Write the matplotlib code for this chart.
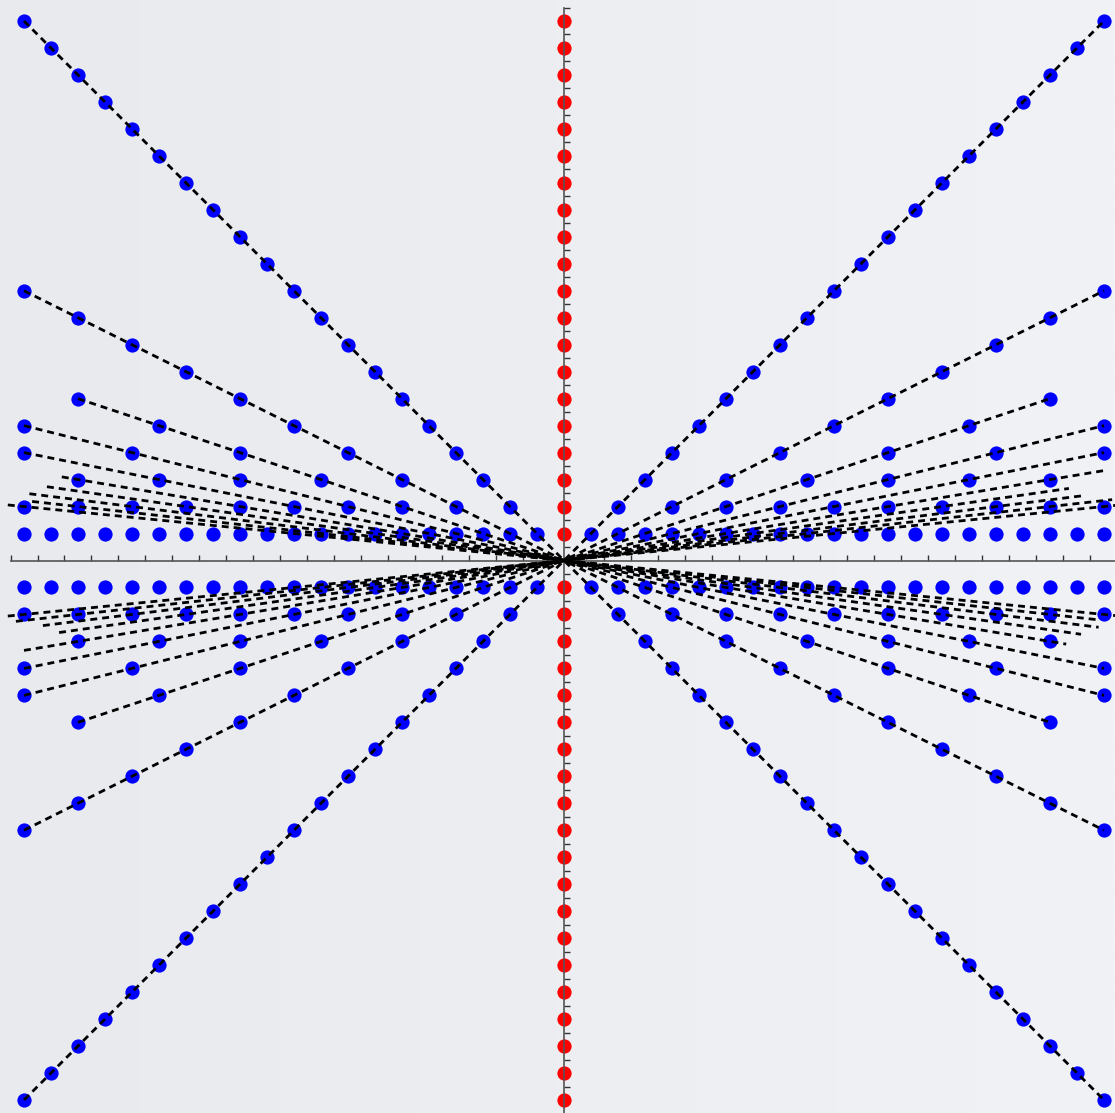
import numpy as np
import matplotlib.pyplot as plt
from matplotlib.colors import LinearSegmentedColormap

# lattice points (x, y) with y dividing x, first quadrant; mirrored into the others
row_y = [1, 2, 3, 4, 5, 6, 7, 8, 9, 10, 11, 12, 13, 14, 15, 16, 17, 18, 19, 20]
row_x = [
    [1, 2, 3, 4, 5, 6, 7, 8, 9, 10, 11, 12, 13, 14, 15, 16, 17, 18, 19, 20],
    [2, 4, 6, 8, 10, 12, 14, 16, 18, 20],
    [3, 6, 9, 12, 15, 18],
    [4, 8, 12, 16, 20],
    [5, 10, 15, 20],
    [6, 12, 18],
    [7, 14],
    [8, 16],
    [9, 18],
    [10, 20],
    [11], [12], [13], [14], [15], [16], [17], [18], [19], [20],
]

# points on the vertical axis (x = 0)
axis_y = [-20, -19, -18, -17, -16, -15, -14, -13, -12, -11, -10, -9, -8, -7, -6,
          -5, -4, -3, -2, -1, 1, 2, 3, 4, 5, 6, 7, 8, 9, 10, 11, 12, 13, 14, 15,
          16, 17, 18, 19, 20]

# dashed rays y = x/n through the origin and how far (in x) each one reaches
ray_n = [1, 2, 3, 4, 5, 6, 7, 8, 9, 10]
reach_pos = [20, 20, 18, 20, 20, 20.0, 18.7, 19.3, 20.3, 20.6]   # slope +1/n
reach_neg = [20, 20, 18, 20, 20, 18.6, 19.15, 19.8, 19.7, 20.6]  # slope -1/n

fig = plt.figure(figsize=(11.15, 11.13), dpi=100)
ax = fig.add_axes([0, 0, 1, 1])

x0, x1 = -564 / 27, 551 / 27
y0, y1 = -552.5 / 26.975, 560.5 / 26.975

# soft slide-like background
bg = LinearSegmentedColormap.from_list('bg', ['#e8eaee', '#f0f2f6'], N=1024)
ax.imshow(np.linspace(0, 1, 1024).reshape(1, -1), cmap=bg, aspect='auto',
          extent=[x0, x1, y0, y1], zorder=0, interpolation='bilinear')

# blue lattice points
bx, by = [], []
for y, xs in zip(row_y, row_x):
    for x in xs:
        for sx in (1, -1):
            for sy in (1, -1):
                bx.append(sx * x)
                by.append(sy * y)
ax.scatter(bx, by, s=105, color='#0000ff', linewidths=0, zorder=3)

# red points on the y axis
ax.scatter([0] * len(axis_y), axis_y, s=105, color='#ff0000', linewidths=0, zorder=1)

# dashed rays
for n, rp, rn in zip(ray_n, reach_pos, reach_neg):
    ax.plot([-rp, rp], [-rp / n, rp / n], color='black', lw=2.0,
            dashes=(2.5, 1.8), zorder=4)
    ax.plot([-rn, rn], [rn / n, -rn / n], color='black', lw=2.0,
            dashes=(2.5, 1.8), zorder=4)

# axes through the origin with small inward ticks
for side in ('top', 'right'):
    ax.spines[side].set_visible(False)
for side in ('left', 'bottom'):
    ax.spines[side].set_position('zero')
    ax.spines[side].set_bounds(-20.5, 20.5)
    ax.spines[side].set_color('#555555')
    ax.spines[side].set_linewidth(1.2)
    ax.spines[side].set_zorder(2.5)

ticks = np.arange(-20.5, 21, 1.0)
ax.set_xticks(ticks)
ax.set_yticks(ticks)
ax.tick_params(direction='in', length=4, width=1.0, color='#333333',
               labelbottom=False, labelleft=False)

ax.set_xlim(x0, x1)
ax.set_ylim(y0, y1)
ax.set_facecolor('#eceef2')
fig.patch.set_facecolor('#eceef2')

plt.savefig('out.png', dpi=100)
